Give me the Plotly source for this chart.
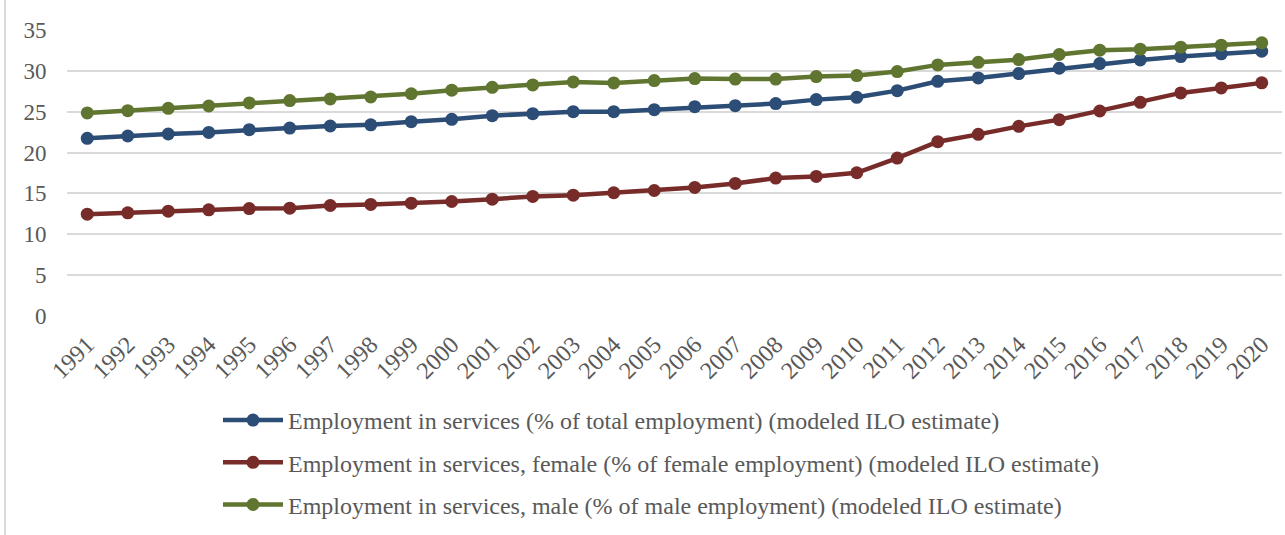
import plotly.graph_objects as go

years = [str(y) for y in range(1991, 2021)]

total = [21.74, 22.03, 22.27, 22.47, 22.80, 23.00, 23.25, 23.40, 23.78,
         24.07, 24.52, 24.76, 25.00, 25.00, 25.25, 25.62, 25.74, 25.99, 26.48,
         26.76, 27.58, 28.72, 29.13, 29.67, 30.32, 30.89, 31.34, 31.75, 32.08, 32.40]
female = [12.46, 12.63, 12.83, 12.99, 13.15, 13.20, 13.52, 13.65, 13.81,
          14.01, 14.30, 14.63, 14.79, 15.08, 15.36, 15.73, 16.22, 16.88, 17.08,
          17.53, 19.33, 21.33, 22.23, 23.21, 24.03, 25.09, 26.15, 27.30, 27.91, 28.53]
male = [24.85, 25.13, 25.42, 25.70, 26.07, 26.36, 26.56, 26.80, 27.20,
        27.63, 27.99, 28.28, 28.65, 28.52, 28.81, 29.05, 29.00, 29.00, 29.30,
        29.42, 29.91, 30.73, 31.05, 31.38, 32.00, 32.53, 32.65, 32.90, 33.14, 33.43]

names = [
    "Employment in services (% of total employment) (modeled ILO estimate)",
    "Employment in services, female (% of female employment) (modeled ILO estimate)",
    "Employment in services, male (% of male employment) (modeled ILO estimate)",
]
colors = ["#2C4D75", "#772C2A", "#5F7530"]
series = [total, female, male]

W, H = 1285, 535
ML, MR, MT, MB = 67, 3, 30, 219

fig = go.Figure()
for i, (nm, col, vals) in enumerate(zip(names, colors, series)):
    fig.add_trace(go.Scatter(
        x=years, y=vals, name=nm, mode="lines+markers",
        line=dict(color=col, width=4.5),
        marker=dict(color=col, size=13),
        legendgroup=f"g{i}",
    ))

fig.update_layout(
    width=W, height=H,
    margin=dict(l=ML, r=MR, t=MT, b=MB, autoexpand=False),
    paper_bgcolor="white", plot_bgcolor="white",
    font=dict(family="Liberation Serif, Times New Roman, serif", color="#595959"),
    showlegend=True,
    legend=dict(
        xref="container", yref="container",
        x=218 / W, y=1 - 398 / H, xanchor="left", yanchor="top",
        font=dict(size=24, color="#595959"),
        tracegroupgap=8, itemwidth=60,
        bgcolor="rgba(0,0,0,0)",
    ),
    xaxis=dict(
        type="category", range=[-0.5, len(years) - 0.5],
        tickangle=-45, tickfont=dict(size=24, color="#595959"),
        showgrid=False, showline=False, zeroline=False,
        ticks="outside", ticklen=4, tickcolor="rgba(0,0,0,0)",
        automargin=False,
    ),
    yaxis=dict(
        range=[0, 35], dtick=5, tickfont=dict(size=23, color="#595959"),
        showgrid=True, gridcolor="#DADADA", gridwidth=2,
        zeroline=False, showline=False,
        ticks="outside", ticklen=15, tickcolor="rgba(0,0,0,0)",
        automargin=False,
    ),
)

# left border of chart frame
pw = W - ML - MR
fig.add_shape(type="line", xref="paper", yref="paper",
              x0=(5 - ML) / pw, x1=(5 - ML) / pw,
              y0=-MB / (H - MT - MB), y1=1 + MT / (H - MT - MB),
              line=dict(color="#D9D9D9", width=2), layer="below")

fig.write_html("out.html")
